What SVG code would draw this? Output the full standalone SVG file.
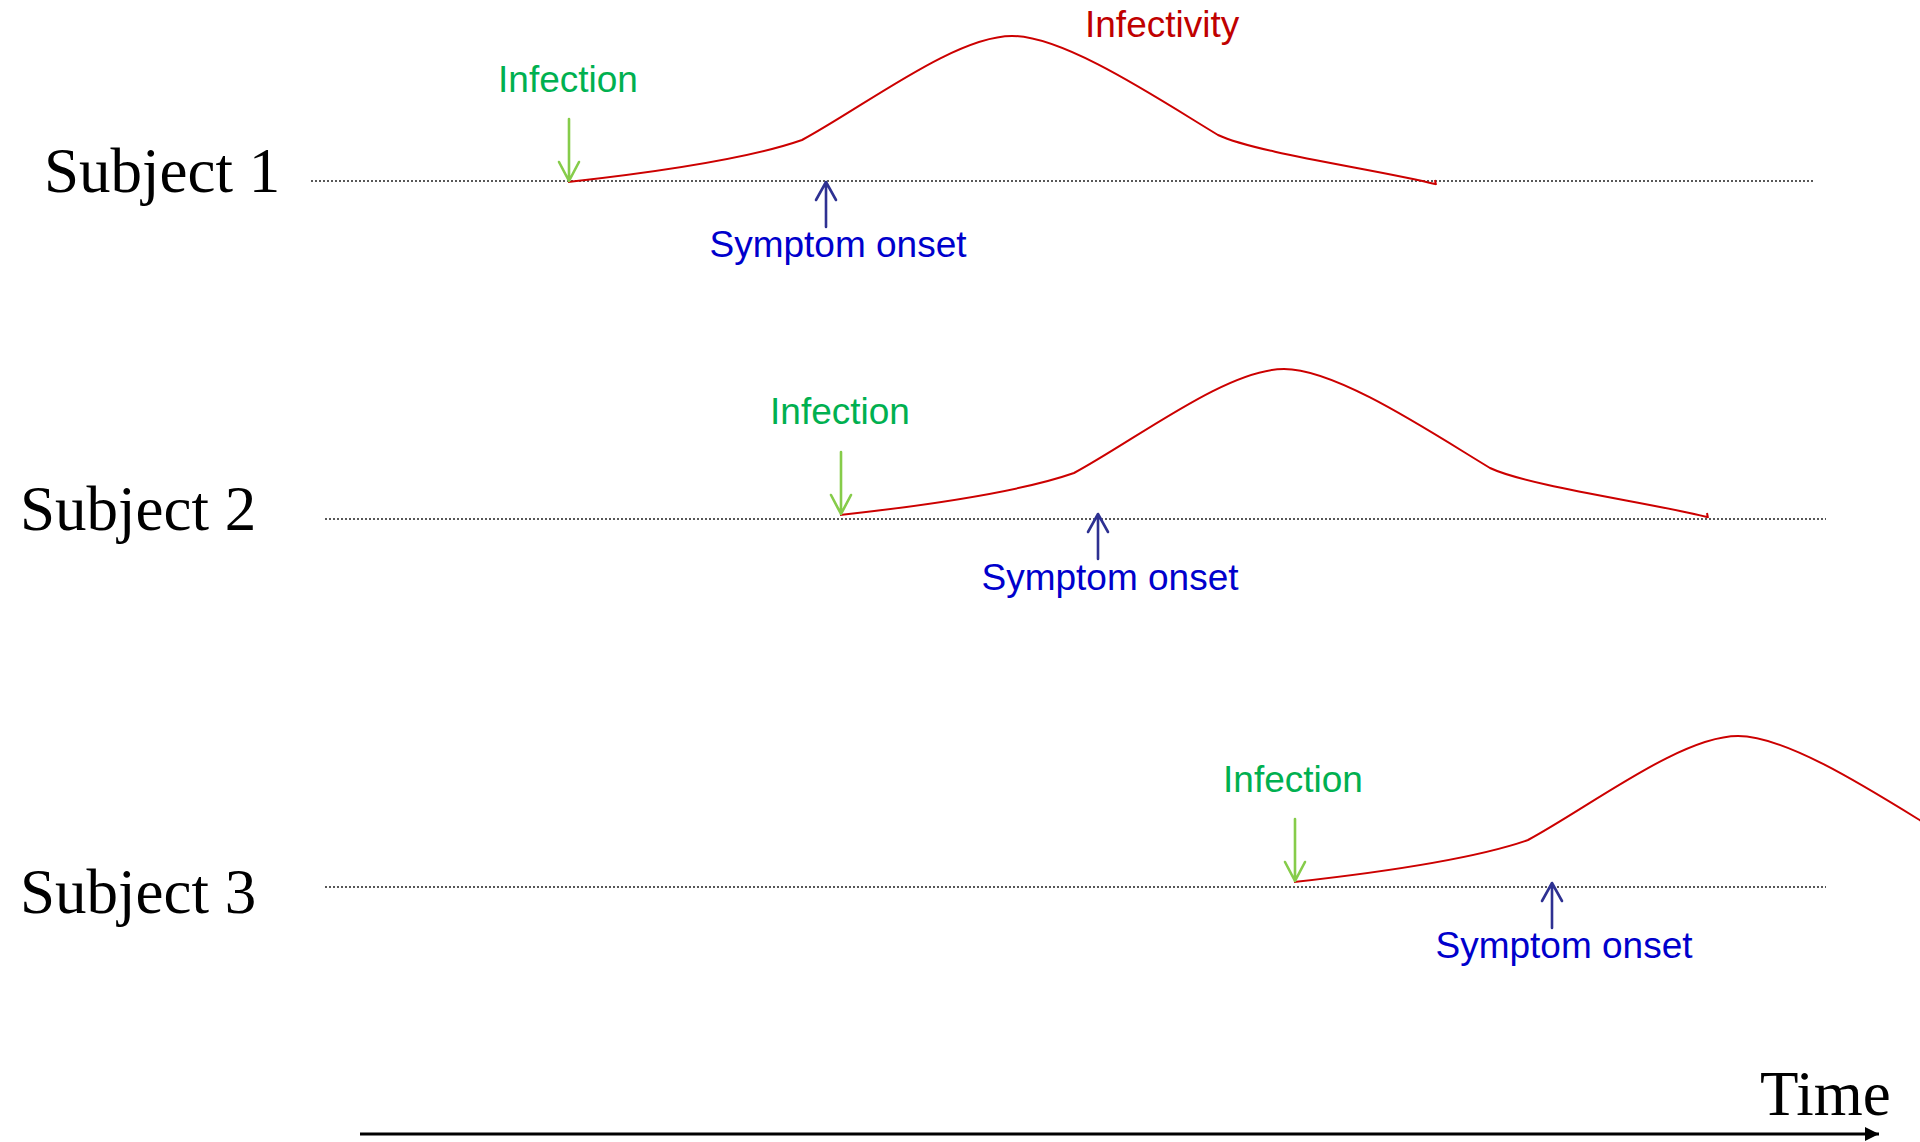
<svg xmlns="http://www.w3.org/2000/svg" width="1920" height="1142" viewBox="0 0 1920 1142">
<defs>
<style>
.subj{font-family:"Liberation Serif","Times New Roman",serif;font-size:63px;fill:#000}
.inf{font-family:"Liberation Sans",Arial,sans-serif;font-size:37px;fill:#00b050;text-anchor:middle}
.sym{font-family:"Liberation Sans",Arial,sans-serif;font-size:37px;fill:#0000cc;text-anchor:middle}
.lbl{font-family:"Liberation Sans",Arial,sans-serif;font-size:37px;fill:#c00000}
.base{stroke:#222;stroke-width:1.6;stroke-dasharray:2 2;fill:none}
.curve{stroke:#cc0000;stroke-width:2;fill:none}
.garr{stroke:#86cc4a;stroke-width:2.6;fill:none;stroke-linecap:round;stroke-linejoin:round}
.barr{stroke:#2e3192;stroke-width:2.6;fill:none;stroke-linecap:round;stroke-linejoin:round}
</style>
<path id="infect" d="M568,182 C640,174 745,160 802,140 C865,106 955,36 1012,36 C1065,36 1160,100 1218,135 C1256,153 1380,170 1435,184 M1435,180 L1436,185"/>
<g id="garrow"><path class="garr" d="M0,-62 V0 M-10,-19 L0,0 L10,-19"/></g>
<g id="barrow"><path class="barr" d="M0,45 V0 M-10,18 L0,0 L10,18"/></g>
<marker id="ah" markerWidth="14" markerHeight="14" refX="14" refY="7" orient="auto" markerUnits="userSpaceOnUse">
<path d="M0,0 L14,7 L0,14 Z" fill="#000"/>
</marker>
</defs>
<rect width="1920" height="1142" fill="#fff"/>

<g id="subject1">
<text class="subj" x="44" y="192">Subject 1</text>
<line class="base" x1="311" y1="181" x2="1814" y2="181"/>
<use href="#infect" class="curve"/>
<text class="lbl" x="1085" y="37">Infectivity</text>
<use href="#garrow" x="569" y="181"/>
<text class="inf" x="568" y="92">Infection</text>
<use href="#barrow" x="826" y="182"/>
<text class="sym" x="838" y="257">Symptom onset</text>
</g>

<g id="subject2">
<text class="subj" x="20" y="530">Subject 2</text>
<line class="base" x1="325" y1="519" x2="1826" y2="519"/>
<use href="#infect" class="curve" transform="translate(272,333)"/>
<use href="#garrow" x="841" y="514"/>
<text class="inf" x="840" y="424">Infection</text>
<use href="#barrow" x="1098" y="514"/>
<text class="sym" x="1110" y="590">Symptom onset</text>
</g>

<g id="subject3">
<text class="subj" x="20" y="913">Subject 3</text>
<line class="base" x1="325" y1="887" x2="1826" y2="887"/>
<use href="#infect" class="curve" transform="translate(726,700)"/>
<use href="#garrow" x="1295" y="881"/>
<text class="inf" x="1293" y="792">Infection</text>
<use href="#barrow" x="1552" y="883"/>
<text class="sym" x="1564" y="958">Symptom onset</text>
</g>

<g id="connectors">
<line x1="360" y1="1134" x2="1879" y2="1134" stroke="#000" stroke-width="3.2" marker-end="url(#ah)"/>
</g>
<g id="time">
<text class="subj" x="1760" y="1115">Time</text>
</g>
</svg>
